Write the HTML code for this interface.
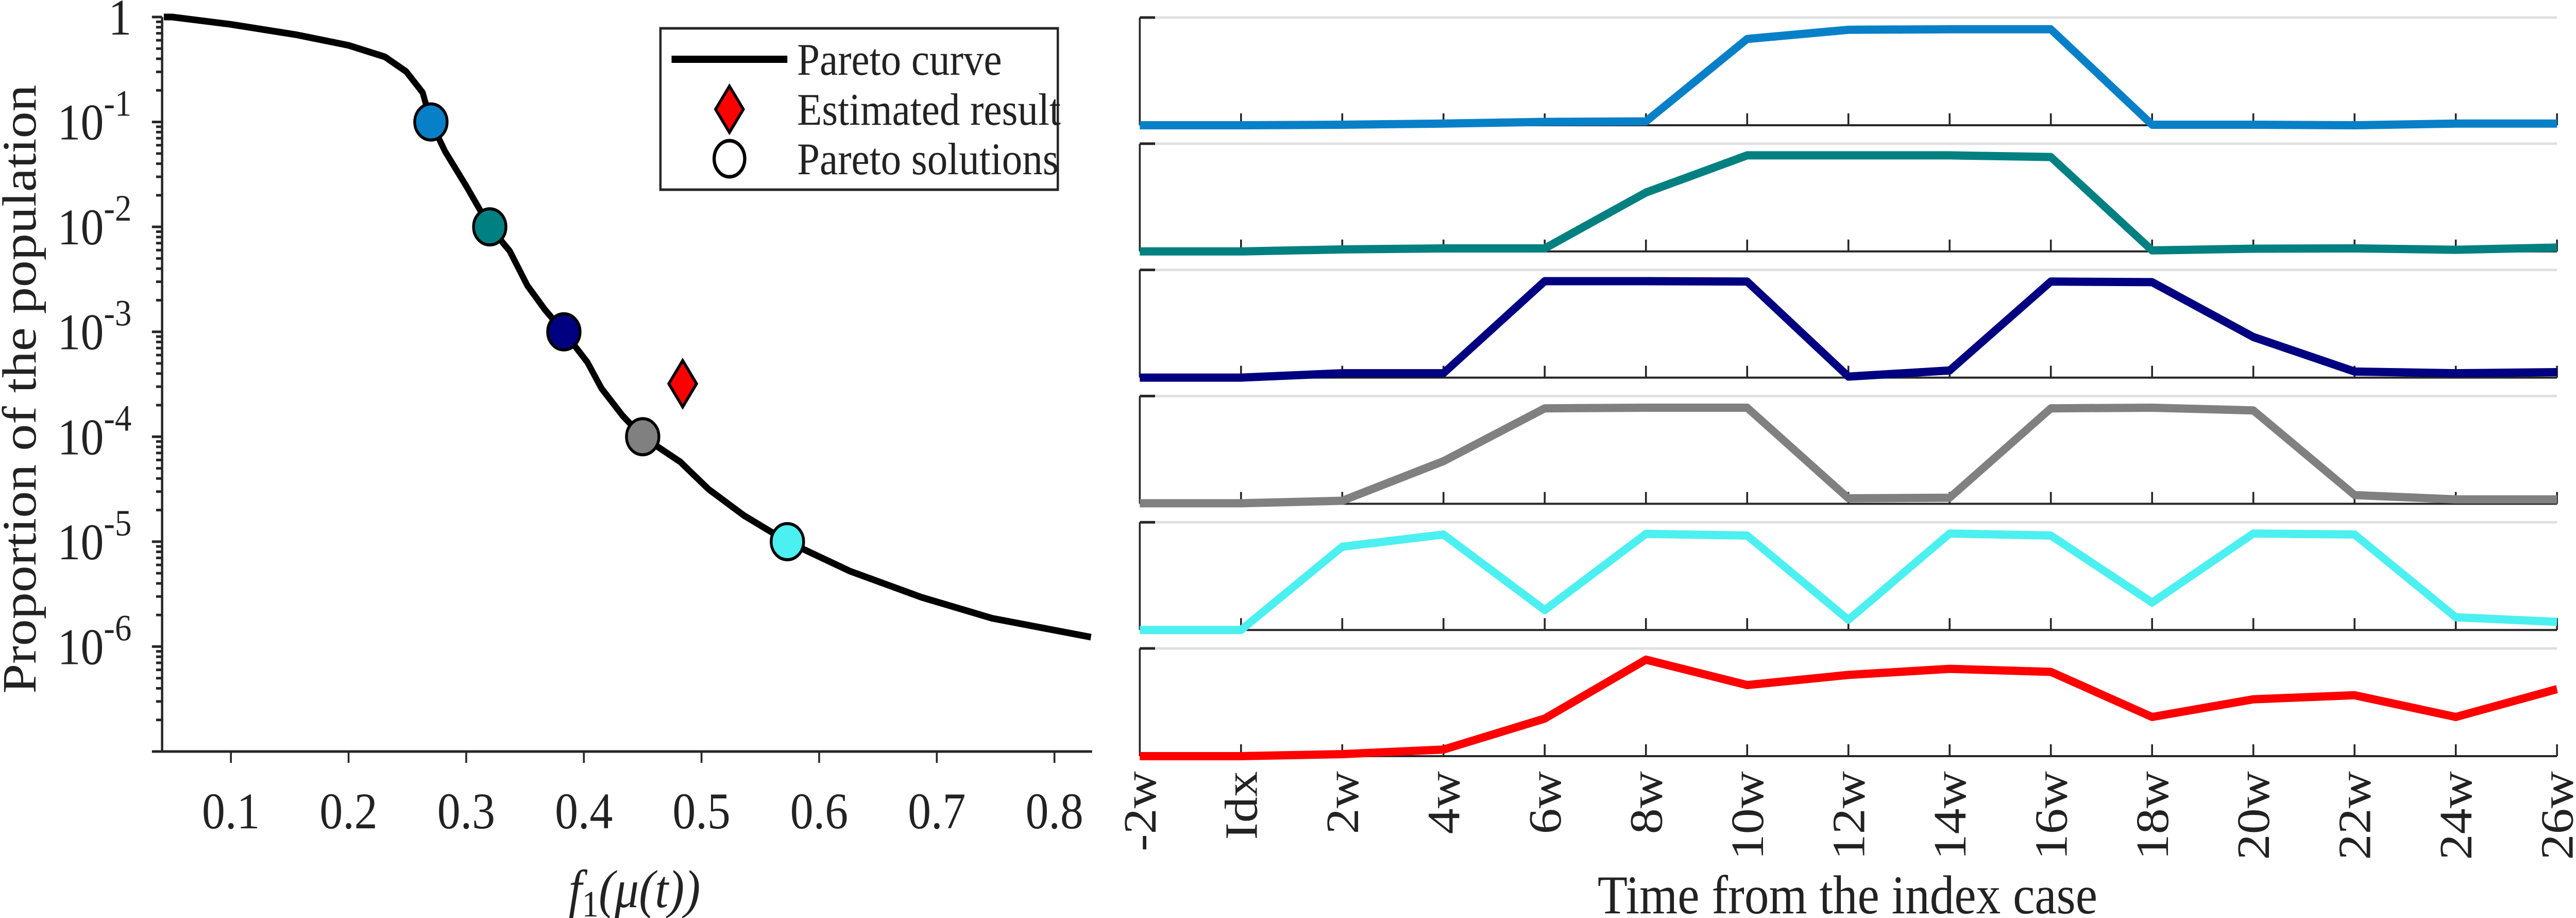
<!DOCTYPE html>
<html><head><meta charset="utf-8"><style>
html,body{margin:0;padding:0;background:#fff;overflow:hidden;width:100%;height:100%}
svg{display:block;width:100vw;height:100vh}
text{font-family:"Liberation Serif",serif;fill:#222}
</style></head><body>
<svg id="fig" viewBox="0 0 5562 1781" preserveAspectRatio="none" xmlns="http://www.w3.org/2000/svg">
<rect x="0" y="0" width="5562" height="1781" fill="#fff"/>
<g id="left"></g>
<g id="right"></g>
</svg>
<script>
// ---- Left chart data ----
const curveF1 = [0.043,0.05,0.1,0.156,0.2,0.231,0.249,0.263,0.27,0.282,0.3,0.32,0.337,0.352,0.367,0.383,0.403,0.415,0.433,0.45,0.482,0.506,0.536,0.573,0.626,0.687,0.747,0.831];
const curveLog = [0,0,-0.07,-0.17,-0.27,-0.38,-0.52,-0.72,-1,-1.28,-1.61,-2,-2.23,-2.56,-2.79,-3,-3.29,-3.54,-3.8,-4,-4.24,-4.5,-4.75,-5,-5.28,-5.53,-5.73,-5.91];
const solF1 = [0.27,0.32,0.383,0.45,0.573];
const solY = [1e-1,1e-2,1e-3,1e-4,1e-5];
const solColors = ['#0880c8','#008080','#000080','#808080','#4cf0f0'];
const estF1 = [0.484];
const estY = [3.2e-4];
const xTickVals = [0.1,0.2,0.3,0.4,0.5,0.6,0.7,0.8];
const xTickLabels = ['0.1','0.2','0.3','0.4','0.5','0.6','0.7','0.8'];
const yDecades = [0,-1,-2,-3,-4,-5,-6];
const yTickExp = ['','-1','-2','-3','-4','-5','-6'];

// ---- Right chart data ----
const timeLabels = ['-2w','Idx','2w','4w','6w','8w','10w','12w','14w','16w','18w','20w','22w','24w','26w'];
const series1 = [0,0,0.005,0.016,0.033,0.038,0.85,0.94,0.945,0.945,0.005,0.005,0,0.016,0.016];
const series2 = [0,0,0.02,0.03,0.03,0.58,0.946,0.946,0.946,0.93,0.01,0.027,0.03,0.016,0.038];
const series3 = [0,0,0.043,0.043,0.95,0.95,0.946,0.01,0.07,0.946,0.94,0.40,0.06,0.043,0.054];
const series4 = [0.005,0.005,0.03,0.42,0.94,0.946,0.946,0.054,0.06,0.94,0.946,0.92,0.086,0.043,0.043];
const series5 = [0,0,0.82,0.94,0.196,0.946,0.93,0.10,0.95,0.93,0.27,0.95,0.94,0.125,0.08];
const series6 = [0,0,0.02,0.065,0.37,0.95,0.70,0.80,0.86,0.83,0.386,0.56,0.60,0.386,0.66];
const seriesColors = ['#0880c8','#008080','#000080','#808080','#4cf0f0','#ff0000'];

const NS='http://www.w3.org/2000/svg';
function mk(tag, attrs, parent){const e=document.createElementNS(NS,tag);for(const k in attrs)e.setAttribute(k,attrs[k]);parent.appendChild(e);return e;}

// ---- Left axes ----
const L=document.getElementById('left');
const AX0=350, AX1=2358, AY0=33, AY1=1458;
const xMin=0.0415, xMax=0.832;
const sx=v=>AX0+(v-xMin)/(xMax-xMin)*(AX1-AX0);
const sy=lg=>AY0+(-lg)/7*(AY1-AY0);

let a=mk('line',{x1:AX0,y1:AY0,x2:AX0,y2:AY1,stroke:'#262626','stroke-width':5},L);


a=mk('line',{x1:AX0-2,y1:AY1,x2:AX1,y2:AY1,stroke:'#262626','stroke-width':5},L);



for(let d=0; d>-7; d--){
  for(let m=1;m<10;m++){
    const yy=sy(d-1+Math.log10(m));
    const len = m===1?22:13;
    const t=mk('line',{x1:AX0-len,y1:yy,x2:AX0,y2:yy,stroke:'#262626','stroke-width':5},L);
    
    
  }
}
let t0=mk('line',{x1:AX0-22,y1:sy(0),x2:AX0,y2:sy(0),stroke:'#262626','stroke-width':5},L);


yDecades.forEach((d,i)=>{
  const y=sy(d);
  const tx=mk('text',{x:284,y:y+34,'font-size':100,'text-anchor':'end'},L);
  
  
  if(yTickExp[i]===''){tx.textContent='1';}
  else{
    const b=mk('tspan',{},tx);b.textContent='10';
    const s=mk('tspan',{dy:-46,'font-size':72},tx);s.textContent=yTickExp[i];
  }
});
xTickVals.forEach((v,i)=>{
  const x=sx(v);
  const t=mk('line',{x1:x,y1:AY1,x2:x,y2:AY1+22,stroke:'#262626','stroke-width':4},L);
  
  
  const tx=mk('text',{x:x,y:1607,'font-size':100,'text-anchor':'middle'},L);
  
  
  tx.textContent=xTickLabels[i];
});
let yl=mk('text',{x:0,y:0,'font-size':104,'text-anchor':'middle',transform:'translate(77,755) rotate(-90)'},L);


yl.textContent='Proportion of the population';
let xl=mk('text',{x:1370,y:1760,'font-size':104,'text-anchor':'middle','font-style':'italic'},L);


let p1=mk('tspan',{},xl);p1.textContent='f';
let p2=mk('tspan',{dy:18,'font-size':72,'font-style':'normal'},xl);p2.textContent='1';
let p3=mk('tspan',{dy:-18},xl);p3.textContent='(μ(t))';

let d=curveF1.map((v,i)=>(i?'L':'M')+sx(v).toFixed(1)+' '+sy(curveLog[i]).toFixed(1)).join(' ');
let cv=mk('path',{d:d,fill:'none',stroke:'#000','stroke-width':13,'stroke-linejoin':'round'},L);


solF1.forEach((v,i)=>{
  const c=mk('circle',{cx:sx(v),cy:sy(Math.log10(solY[i])),r:35,fill:solColors[i],stroke:'#000','stroke-width':6},L);
  
  
});
estF1.forEach((v,i)=>{
  const x=sx(v), y=sy(Math.log10(estY[i]));
  const p=mk('polygon',{points:`${x},${y-45} ${x+30},${y} ${x},${y+45} ${x-30},${y}`,fill:'#ff0000',stroke:'#000','stroke-width':6},L);
  
  
});
const lg=mk('g',{},L);


mk('rect',{x:1426,y:55,width:858,height:313,fill:'#fff',stroke:'#262626','stroke-width':5},lg);
let le=mk('line',{x1:1450,y1:115,x2:1700,y2:115,stroke:'#000','stroke-width':14},lg);


let ld=mk('polygon',{points:'1575,167 1605,212 1575,257 1545,212',fill:'#ff0000',stroke:'#000','stroke-width':6},lg);


let lc=mk('ellipse',{cx:1575,cy:308,rx:33,ry:35,fill:'#fff',stroke:'#000','stroke-width':7},lg);


[['Pareto curve',145],['Estimated result',242],['Pareto solutions',338]].forEach(r=>{
  const tx=mk('text',{x:1721,y:r[1],'font-size':88},lg);
  
  
  tx.textContent=r[0];
});

// ---- Right panels ----
const R=document.getElementById('right');
const RX0=2461, RX1=5521, TOP0=34, STEP=244.8, H=209;
const tx=i=>RX0+i*(RX1-RX0)/(timeLabels.length-1);
const allSeries=[series1,series2,series3,series4,series5,series6];
allSeries.forEach((s,k)=>{
  const top=TOP0+k*STEP, bot=top+H;
  const g=mk('g',{},R);
  
  
  mk('line',{x1:RX0,y1:top,x2:RX1,y2:top,stroke:'#e0e0e0','stroke-width':5},g);
  mk('line',{x1:RX0,y1:top,x2:RX0,y2:bot,stroke:'#262626','stroke-width':4},g);
  mk('line',{x1:RX0,y1:top,x2:RX0+33,y2:top,stroke:'#262626','stroke-width':5},g);
  mk('line',{x1:RX0,y1:bot,x2:RX1,y2:bot,stroke:'#262626','stroke-width':4},g);
  timeLabels.forEach((l,i)=>{ if(i>0) mk('line',{x1:tx(i),y1:bot,x2:tx(i),y2:bot-23,stroke:'#262626','stroke-width':4},g); });
  const sy2=v=>bot-v*(H-12);
  const dd=s.map((v,i)=>(i?'L':'M')+tx(i).toFixed(1)+' '+sy2(v).toFixed(1)).join(' ');
  const pl=mk('path',{d:dd,fill:'none',stroke:seriesColors[k],'stroke-width':16,'stroke-linejoin':'round'},g);
  
  
});
timeLabels.forEach((l,i)=>{
  const t=mk('text',{x:0,y:0,'font-size':100,'text-anchor':'end',transform:`translate(${tx(i)+34},1496) rotate(-90)`},R);
  
  
  t.textContent=l;
});
let rt=mk('text',{x:3989,y:1772,'font-size':106,'text-anchor':'middle'},R);


rt.textContent='Time from the index case';
</script>
</body></html>
